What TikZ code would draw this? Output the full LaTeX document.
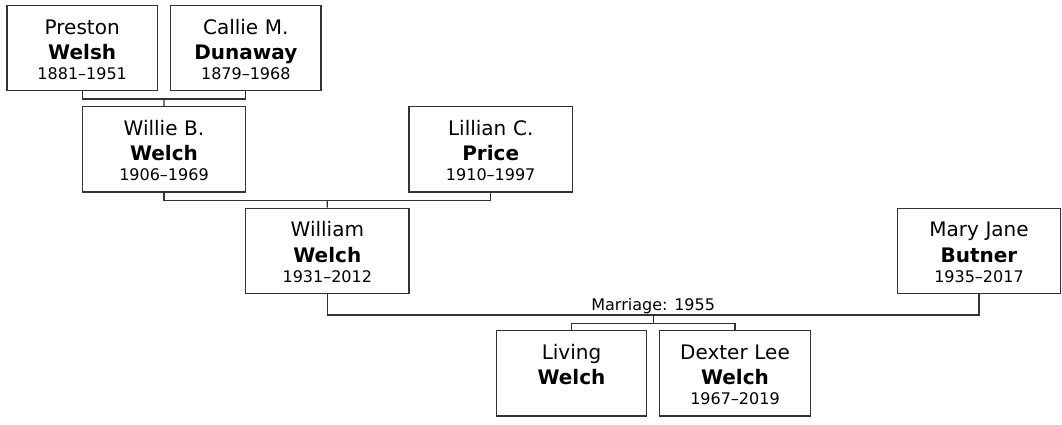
\documentclass[tikz,border=0pt]{standalone}
\usepackage{fontspec}
\setmainfont{DejaVu Sans}
\usepackage{tikz}
\usetikzlibrary{calc}
\newcommand{\yrs}{\fontsize{16}{19.8}\selectfont}

\begin{document}
\begin{tikzpicture}[
            x=1pt, y=-1pt,
            person/.style={draw=black!80, line width=1.2pt, inner sep=0pt, text width=150.5pt,
                text height=28.5pt, text depth=56.7pt, align=center,
                font=\fontsize{20}{25.7}\selectfont},
            wide/.style={person, text width=163.3pt},
            link/.style={draw=black!80, line width=1.2pt},
            note/.style={inner sep=0pt, font=\yrs},
        ]
            \useasboundingbox (0,0) rectangle (1062,424);
            \node[person] (preston) at (82.2,48.1) {Preston\\\textbf{Welsh}\\[-5.9pt]{\yrs 1881--1951}};
            \node[person] (callie) at (245.8,48.1) {Callie M.\\\textbf{Dunaway}\\[-5.9pt]{\yrs 1879--1968}};
            \node[wide] (willie) at (164,149.3) {Willie B.\\\textbf{Welch}\\[-5.9pt]{\yrs 1906--1969}};
            \node[wide] (lillian) at (490.7,149.3) {Lillian C.\\\textbf{Price}\\[-5.9pt]{\yrs 1910--1997}};
            \node[wide] (william) at (327.3,250.8) {William\\\textbf{Welch}\\[-5.9pt]{\yrs 1931--2012}};
            \node[wide] (mary) at (979,250.8) {Mary Jane\\\textbf{Butner}\\[-5.9pt]{\yrs 1935--2017}};
            \node[person] (living) at (571.5,373.3) {Living\\\textbf{Welch}};
            \node[person] (dexter) at (735,373.3) {Dexter Lee\\\textbf{Welch}\\[-5.9pt]{\yrs 1967--2019}};

            \coordinate (pc) at ($(preston.south)!0.5!(callie.south)+(0,7.6)$);
            \coordinate (wl) at ($(willie.south)!0.5!(lillian.south)+(0,8.3)$);
            \coordinate (wed) at ($(william.south)!0.5!(mary.south)+(0,21)$);
            \coordinate (kids) at ($(wed)+(0,8.1)$);

            \draw[link] (preston.south) |- (pc) -| (callie.south);
            \draw[link] (pc) -- (willie.north);
            \draw[link] (willie.south) |- (wl) -| (lillian.south);
            \draw[link] (wl) -- (william.north);
            \draw[link] (william.south) |- (wed) -| (mary.south);
            \node[note, anchor=base] (marriage) at ([yshift=4.2pt]wed) {Marriage: 1955};
            \draw[link] (wed) -- (kids);
            \draw[link] (living.north) |- (kids) -| (dexter.north);
        \end{tikzpicture}
\end{document}
